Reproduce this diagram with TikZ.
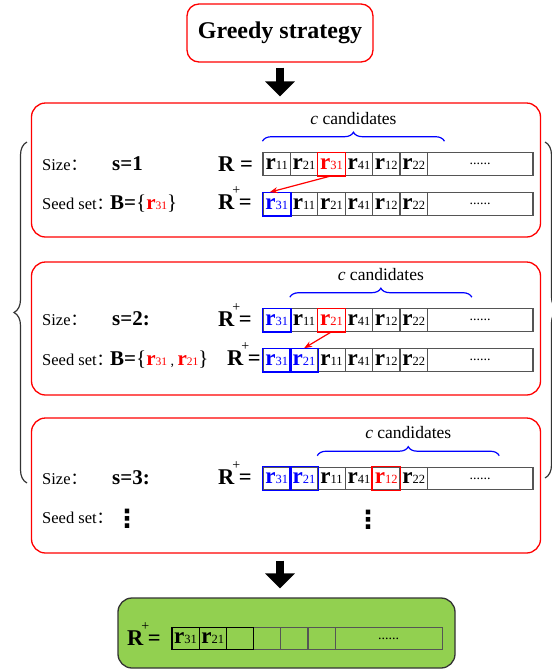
\documentclass[tikz,border=0pt]{standalone}
\usepackage{fontspec}
\setmainfont{Liberation Serif}
\newfontfamily\cjk{Noto Sans CJK SC}
\newfontfamily\symfont{DejaVu Sans}
\usetikzlibrary{calc,arrows.meta,decorations.pathreplacing}

\definecolor{cellgray}{RGB}{85,85,85}
\definecolor{leafgreen}{RGB}{146,208,80}

\newcommand\cjkcolon{{\cjk ：}}
\newcommand\rr[1]{r{\fontsize{12.5}{12.5}\mdseries\selectfont #1}}
\newcommand\rred[1]{\textcolor{red}{r{\fontsize{11.5}{11.5}\mdseries\selectfont #1}}}
\newcommand\Rplus{R\kern-2pt\raisebox{14.5pt}{\fontsize{14}{14}\mdseries\selectfont+}\kern-1.5pt=}

\tikzset{
  panel/.style={draw=red,line width=1.3pt,rounded corners=14pt,
    minimum width=509pt,inner sep=0},
  titlebox/.style={draw=red,line width=1.3pt,rounded corners=12pt,
    minimum width=186pt,minimum height=58pt,font=\fontsize{24}{24}\selectfont\bfseries},
  cell/.style={draw=cellgray,line width=1.1pt,minimum width=27.4pt,
    minimum height=22.5pt,inner sep=0,font=\fontsize{23}{23}\selectfont\bfseries},
  longcell/.style={cell,minimum width=105.6pt,font=\fontsize{14}{14}\selectfont},
  plain/.style={},
  pick/.style={text=red},
  seed/.style={text=blue},
  plain-line/.style={},
  pick-line/.style={draw=red,line width=1.4pt},
  seed-line/.style={draw=blue,line width=1.4pt},
  sizetxt/.style={anchor=base west,inner sep=0,font=\fontsize{16.5}{16.5}\selectfont},
  settxt/.style={anchor=base west,inner sep=0,font=\fontsize{21}{21}\selectfont\bfseries},
  rtxt/.style={anchor=base west,inner sep=0,font=\fontsize{22.5}{22.5}\selectfont\bfseries},
  dotstxt/.style={inner sep=0,font=\fontsize{25}{25}\symfont\bfseries},
  cbrace/.style={draw=blue,line width=1.2pt,decorate,decoration={brace,amplitude=9pt}},
  ctxt/.style={midway,above=16pt,inner sep=0,text=black,font=\fontsize{17.5}{17.5}\selectfont},
  outerbrace/.style={draw=black!80,line width=1.2pt,decorate,decoration={brace,amplitude=13pt}},
  pickarrow/.style={red,line width=1.2pt,-{Stealth[length=8pt,width=6pt]}},
  blockarrow/.style={line width=8pt,-{Triangle[width=29pt,length=15pt]}}
}

% row of candidate cells: name, y, list of kind/index
\newcommand\cellrow[3]{%
  \foreach \k/\t [count=\i] in {#3}
    \node[cell,\k] (#1\i) at ({249.3+\i*27.4},#2) {\rr{\t}};
  \node[longcell] (#1x) at (480.2,#2) {......};
  \foreach \k/\t [count=\i] in {#3}
    \path[\k-line] (#1\i.south west) rectangle (#1\i.north east);
}

\begin{document}
\begin{tikzpicture}[x=1pt,y=-1pt]
  \useasboundingbox (0,0) rectangle (552,670);
  \node[titlebox] (title) at (280,33) {Greedy strategy};
  \node[panel,minimum height=134pt] (p1) at (286,170) {};
  \node[panel,minimum height=133pt] (p2) at (286,328.5) {};
  \node[panel,minimum height=135pt] (p3) at (286,485.5) {};
  \node[draw=black!80,line width=1.3pt,fill=leafgreen,rounded corners=14pt,
    minimum width=337pt,minimum height=70pt] (green) at (286.5,633) {};
  \draw[blockarrow,shorten <=5pt,shorten >=6pt] (title.south) -- (title.south |- p1.north);
  \draw[blockarrow,shorten <=7pt,shorten >=9pt] (title.south |- p3.south) -- (title.south |- green.north);
  \draw[outerbrace] (27,483) -- (27,142);
  \draw[outerbrace] (545,142) -- (545,478);

  % size s=1
  \node[sizetxt] (size1) at (42,170) {Size\cjkcolon};
  \node[settxt] (s1) at (112,170) {s=1};
  \node[rtxt] (r1) at (218,171.5) {R =};
  \node[sizetxt] (seed1) at (42,209) {Seed set\cjkcolon};
  \node[settxt] (b1) at (110,209) {B={\mdseries\{}\rred{31}{\mdseries\}}};
  \node[rtxt] (rp1) at (218,209) {\Rplus};
  \cellrow{a}{164}{plain/11,plain/21,pick/31,plain/41,plain/12,plain/22}
  \cellrow{b}{204}{seed/31,plain/11,plain/21,plain/41,plain/12,plain/22}
  \draw[cbrace] ([yshift=11pt]a1.north west) -- ++(182,0)
    node[ctxt] {\textit{c} candidates};
  \draw[pickarrow] (a3.south) -- ([xshift=-7pt]b1.north);

  % size s=2
  \node[sizetxt] (size2) at (42,325) {Size\cjkcolon};
  \node[settxt] (s2) at (112,325) {s=2:};
  \node[rtxt] (rp2) at (218,326) {\Rplus};
  \node[sizetxt] (seed2) at (42,365) {Seed set\cjkcolon};
  \node[settxt] (b2) at (110,365) {B={\mdseries\{}\rred{31}\,{\mdseries\fontsize{14}{14}\selectfont,}\,\rred{21}{\mdseries\}}};
  \node[rtxt] (rp3) at (227,365) {\Rplus};
  \cellrow{c}{320}{seed/31,plain/11,pick/21,plain/41,plain/12,plain/22}
  \cellrow{d}{360}{seed/31,seed/21,plain/11,plain/41,plain/12,plain/22}
  \draw[cbrace] ([yshift=11pt]c2.north west) -- ++(182,0)
    node[ctxt] {\textit{c} candidates};
  \draw[pickarrow] (c3.south) -- (d2.north);

  % size s=3
  \node[sizetxt] (size3) at (42,484) {Size\cjkcolon};
  \node[settxt] (s3) at (112,484) {s=3:};
  \node[rtxt] (rp4) at (218,484) {\Rplus};
  \node[sizetxt] (seed3) at (42,523) {Seed set\cjkcolon};
  \node[dotstxt] (dots1) at (127,518.5) {⋮};
  \node[dotstxt] (dots2) at (368,520) {⋮};
  \cellrow{e}{478.5}{seed/31,seed/21,plain/11,plain/41,pick/12,plain/22}
  \draw[cbrace] ([yshift=11pt]e3.north west) -- ++(182,0)
    node[ctxt] {\textit{c} candidates};

  % result
  \node[rtxt] (rp5) at (127,645) {\Rplus};
  \foreach \i in {4,5,6}
    \node[cell,line width=0.9pt] (g\i) at ({158.4+\i*27.2},638.5) {};
  \node[longcell,line width=0.9pt,minimum width=106.8pt] (gx) at (388.6,638.5) {......};
  \foreach \t [count=\i] in {31,21,{}}
    \node[cell,draw=black,line width=1.2pt] (g\i) at ({158.4+\i*27.2},638.5) {\ifx\t\empty\else\rr{\t}\fi};
\end{tikzpicture}
\end{document}
